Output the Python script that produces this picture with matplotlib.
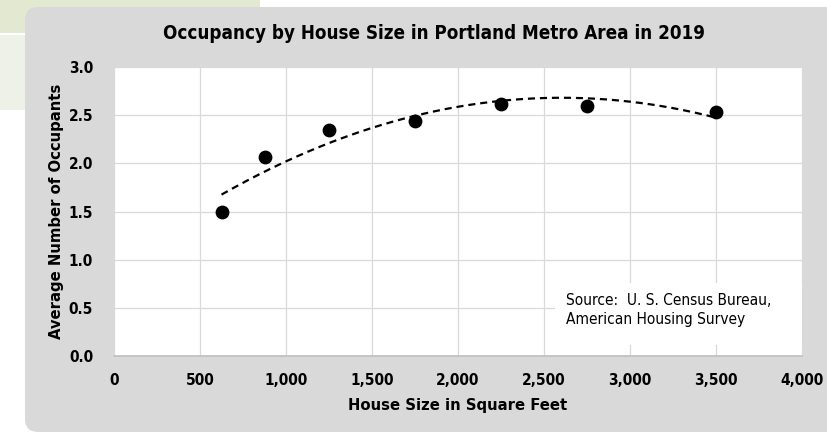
import numpy as np
import matplotlib
matplotlib.use('Agg')
import matplotlib.pyplot as plt
from matplotlib import font_manager
from matplotlib.patches import FancyBboxPatch, Rectangle

# data
house_size = [625, 875, 1250, 1750, 2250, 2750, 3500]
occupants = [1.49, 2.07, 2.35, 2.44, 2.62, 2.59, 2.53]
x_ticks = [0, 500, 1000, 1500, 2000, 2500, 3000, 3500, 4000]
y_ticks = [0.0, 0.5, 1.0, 1.5, 2.0, 2.5, 3.0]

# the original uses a narrow bold face; use one if it is around
names = {f.name for f in font_manager.fontManager.ttflist}
condensed = [f for f in font_manager.fontManager.ttflist
             if f.name == 'DejaVu Sans' and f.stretch == 'condensed']
if 'Liberation Sans Narrow' in names:
    plt.rcParams['font.family'] = ['Liberation Sans Narrow', 'DejaVu Sans']
    k = 1.0
elif condensed:
    plt.rcParams['font.family'] = ['DejaVu Sans']
    plt.rcParams['font.stretch'] = 'condensed'
    k = 0.92
else:
    plt.rcParams['font.family'] = ['Liberation Sans', 'DejaVu Sans']
    k = 0.9

W, H = 828, 432
fig = plt.figure(figsize=(W / 100, H / 100), dpi=100)

def px(x0, y0, x1, y1):
    # pixel box (top-left origin) -> figure fractions
    return x0 / W, 1 - y1 / H, (x1 - x0) / W, (y1 - y0) / H

# green decoration behind the panel
x, y, w, h = px(0, 0, 260, 33)
fig.patches.append(Rectangle((x, y), w, h, transform=fig.transFigure,
                             facecolor='#e3e8d0', edgecolor='none', zorder=0))
x, y, w, h = px(0, 35, 260, 110)
fig.patches.append(Rectangle((x, y), w, h, transform=fig.transFigure,
                             facecolor='#eef1e7', edgecolor='none', zorder=0))

# gray rounded panel
x, y, w, h = px(25, 7, 860, 432)
fig.patches.append(FancyBboxPatch((x, y), w, h, boxstyle='round,pad=0,rounding_size=0.016',
                                  mutation_aspect=W / H, transform=fig.transFigure,
                                  facecolor='#d9d9d9', edgecolor='none', zorder=1))

ax = fig.add_axes(px(114, 67, 802, 356))
ax.set_facecolor('white')
ax.set_zorder(2)

ax.scatter(house_size, occupants, s=80, color='black', zorder=4)

# 2nd order polynomial trendline
coef = np.polyfit(house_size, occupants, 2)
xs = np.linspace(min(house_size), max(house_size), 200)
line, = ax.plot(xs, np.polyval(coef, xs), color='black', lw=1.6, zorder=3)
line.set_dashes([3.2, 2.2])

ax.set_xlim(0, 4000)
ax.set_ylim(0, 3.0)
ax.set_xticks(x_ticks)
ax.set_yticks(y_ticks)
ax.set_xticklabels([f'{v:,}' for v in x_ticks])
ax.set_yticklabels([f'{v:.1f}' for v in y_ticks])
ax.tick_params(length=0, labelsize=12 * k)
ax.tick_params(axis='x', pad=12)
ax.tick_params(axis='y', pad=15)
for lab in ax.get_xticklabels() + ax.get_yticklabels():
    lab.set_fontweight('bold')

ax.grid(True, color='#d9d9d9', lw=0.9)
ax.set_axisbelow(True)
for s in ['top', 'right', 'left']:
    ax.spines[s].set_visible(False)
ax.spines['bottom'].set_color('#bfbfbf')
ax.spines['bottom'].set_linewidth(1.2)

ax.set_xlabel('House Size in Square Feet', fontsize=12.9 * k, fontweight='bold')
ax.set_ylabel('Average Number of Occupants', fontsize=12.9 * k, fontweight='bold')
ax.xaxis.set_label_coords(0.5, -0.17)
ax.yaxis.set_label_coords(-0.084, 0.5)
ax.xaxis.label.set_va('center')
ax.yaxis.label.set_va('center')

# source note box
ax.add_patch(Rectangle((0.641, 0.038), 0.359, 0.215, transform=ax.transAxes,
                       facecolor='white', edgecolor='none', zorder=2.5))
ax.text(0.657, 0.159, 'Source:  U. S. Census Bureau,\nAmerican Housing Survey',
        transform=ax.transAxes, fontsize=12 * k, va='center', ha='left',
        linespacing=1.35, zorder=5)

fig.text(0.524, 0.922, 'Occupancy by House Size in Portland Metro Area in 2019',
         ha='center', va='center', fontsize=14.7 * k, fontweight='bold')

fig.savefig('out.png', dpi=100)
